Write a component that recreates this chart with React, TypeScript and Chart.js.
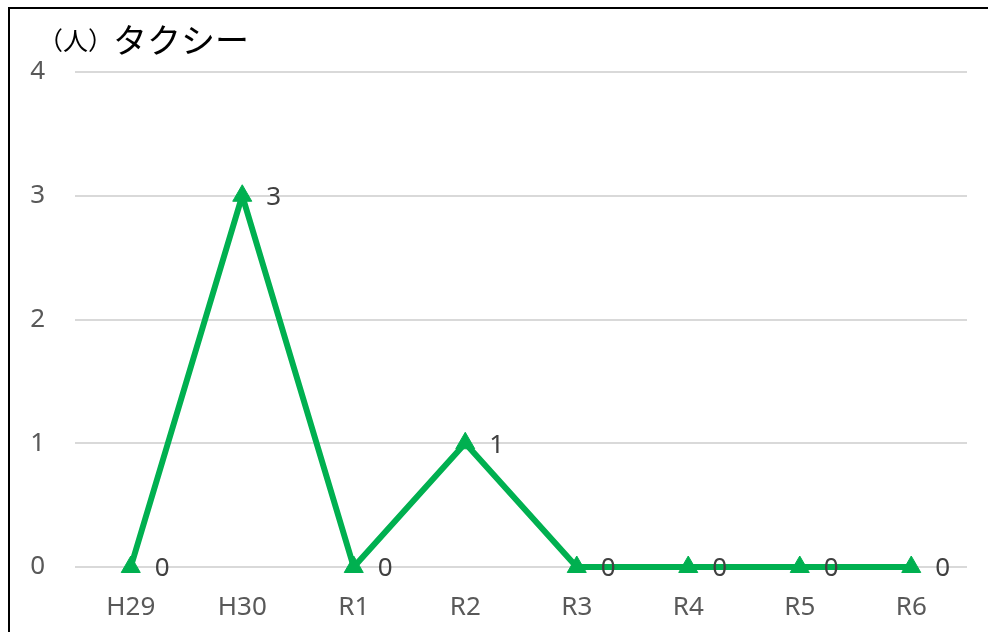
import React, { useEffect, useRef } from "react";
import { Chart, registerables } from "chart.js";

Chart.register(...registerables);

const categories = ["H29", "H30", "R1", "R2", "R3", "R4", "R5", "R6"];
const taxiValues = [0, 3, 0, 1, 0, 0, 0, 0];
const yTicks = [0, 1, 2, 3, 4];
const titleUnit = "（人）";
const titleName = "タクシー";

const GREEN = "#00B050";
const FONT = '"Noto Sans", sans-serif';

const labelPlugin = {
  id: "pointLabels",
  afterDatasetsDraw(chart: any) {
    const ctx = chart.ctx;
    const meta = chart.getDatasetMeta(0);
    ctx.save();
    ctx.font = "26px " + FONT;
    ctx.fillStyle = "#404040";
    ctx.textAlign = "left";
    ctx.textBaseline = "middle";
    meta.data.forEach((pt: any, i: number) => {
      ctx.fillText(String(taxiValues[i]), pt.x + 24, pt.y + 2);
    });
    ctx.restore();
  },
};

export default function App() {
  const ref = useRef<HTMLCanvasElement>(null);
  useEffect(() => {
    if (!ref.current) return;
    const chart = new Chart(ref.current, {
      type: "line",
      data: {
        labels: categories,
        datasets: [
          {
            data: taxiValues,
            borderColor: GREEN,
            backgroundColor: GREEN,
            borderWidth: 6,
            pointStyle: "triangle",
            pointRadius: 11,
            pointBorderWidth: 1,
            tension: 0,
            clip: false,
          },
        ],
      },
      options: {
        responsive: false,
        animation: false,
        layout: { padding: { top: 72, right: 21, left: 0, bottom: 0 } },
        plugins: { legend: { display: false }, tooltip: { enabled: false } },
        scales: {
          x: {
            offset: true,
            grid: { display: false, drawTicks: false },
            border: { display: false },
            ticks: {
              padding: 25,
              color: "#595959",
              font: { size: 26, family: FONT },
            },
            afterFit: (s: any) => {
              s.height = 65;
            },
          },
          y: {
            min: 0,
            max: 4,
            afterBuildTicks: (s: any) => {
              s.ticks = yTicks.map((v) => ({ value: v }));
            },
            grid: { color: "#d9d9d9", lineWidth: 2, drawTicks: false },
            border: { display: false },
            ticks: {
              padding: 30,
              color: "#595959",
              font: { size: 26, family: FONT },
            },
            afterFit: (s: any) => {
              s.width = 75;
            },
          },
        },
      },
      plugins: [labelPlugin],
    });
    return () => chart.destroy();
  }, []);

  return (
    <div
      style={{
        position: "fixed",
        left: 0,
        top: 0,
        width: 988,
        height: 632,
        overflow: "hidden",
        background: "#fff",
      }}
    >
      <div
        style={{
          position: "absolute",
          left: 8,
          top: 7,
          width: 1100,
          height: 800,
          border: "2px solid #000",
          boxSizing: "border-box",
        }}
      />
      <canvas
        ref={ref}
        width={988}
        height={632}
        style={{ position: "absolute", left: 0, top: 0 }}
      />
      <div
        style={{
          position: "absolute",
          left: 38,
          top: 22,
          fontFamily: '"Noto Sans CJK JP", sans-serif',
          color: "#000",
          whiteSpace: "nowrap",
          lineHeight: 1,
        }}
      >
        <span style={{ fontSize: 25, position: "relative", top: -3 }}>{titleUnit}</span>
        <span style={{ fontSize: 34 }}>{titleName}</span>
      </div>
    </div>
  );
}
